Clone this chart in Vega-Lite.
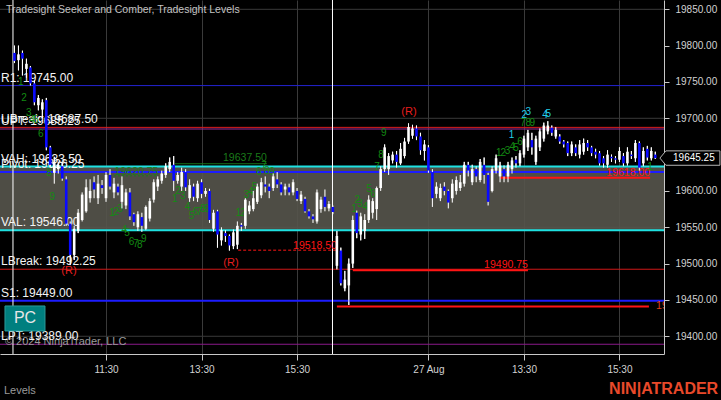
{
"$schema": "https://vega.github.io/schema/vega-lite/v6.json",
"width": 664, "height": 354,
"autosize": {"type": "none"},
"padding": {"left": 0, "top": 0, "right": 57, "bottom": 46},
"background": "#000000",
"config": {"view": {"stroke": null}, "font": "Liberation Sans",
 "axis": {"domainColor": "#c8c8c8", "tickColor": "#c8c8c8", "labelColor": "#d2d2d2", "labelFontSize": 10, "gridColor": "#3a3a3a", "labelFont": "Liberation Sans"}},
"datasets": {
"band": [{"p": 19546, "p2": 19633.5}],
"grid": [{"p": 19400}, {"p": 19550}, {"p": 19700}, {"p": 19850}],
"levels": [
 {"name": "R1", "p": 19745, "label": "R1: 19745.00"},
 {"name": "UBreak", "p": 19687.5, "label": "UBreak: 19687.50"},
 {"name": "UPT", "p": 19685.25, "label": "UPT: 19685.25"},
 {"name": "VAH", "p": 19633.5, "label": "VAH: 19633.50"},
 {"name": "Pivot", "p": 19626.25, "label": "Pivot: 19626.25"},
 {"name": "VAL", "p": 19546, "label": "VAL: 19546.00"},
 {"name": "LBreak", "p": 19492.25, "label": "LBreak: 19492.25"},
 {"name": "S1", "p": 19449, "label": "S1: 19449.00"},
 {"name": "LPT", "p": 19389, "label": "LPT: 19389.00"}
],
"sessions": [{"i": -0.38}, {"i": 79.9}],
"segs": [
 {"i": 40.3, "i2": 63.4, "p": 19637.5, "k": "g"},
 {"i": 24, "i2": 36.1, "p": 19620.75, "k": "gd"},
 {"i": 56.2, "i2": 81, "p": 19518.5, "k": "rd"},
 {"i": 85, "i2": 129, "p": 19490.75, "k": "r2"},
 {"i": 122, "i2": 159.7, "p": 19618, "k": "r2"},
 {"i": 81, "i2": 159.4, "p": 19441, "k": "r2"}
],
"vals": [
 {"i": 63.4, "p": 19645.4, "t": "19637.50", "k": "g"},
 {"i": 36.1, "p": 19626.1, "t": "19620.75", "k": "g"},
 {"i": 81, "p": 19524.3, "t": "19518.50", "k": "r"},
 {"i": 129, "p": 19498.1, "t": "19490.75", "k": "r"},
 {"i": 159.7, "p": 19624.7, "t": "19618.00", "k": "r"}
],
"cut": [{"i": 161.2, "p": 19441.7, "t": "19441.00"}],
"counts": [
 {"i": 1.6, "p": 19749.9, "t": "1", "k": "g"},
 {"i": 2.4, "p": 19727.9, "t": "2", "k": "g"},
 {"i": 3.6, "p": 19707.3, "t": "3", "k": "g"},
 {"i": 4.4, "p": 19698, "t": "4", "k": "g"},
 {"i": 5.4, "p": 19698, "t": "5", "k": "g"},
 {"i": 6.6, "p": 19678.4, "t": "6", "k": "g"},
 {"i": 8.7, "p": 19624.7, "t": "8", "k": "g"},
 {"i": 9.5, "p": 19592.1, "t": "9", "k": "g"},
 {"i": 24.5, "p": 19569.7, "t": "1", "k": "g"},
 {"i": 25.5, "p": 19571, "t": "2", "k": "g"},
 {"i": 26.5, "p": 19575.2, "t": "3", "k": "g"},
 {"i": 27.6, "p": 19546.3, "t": "4", "k": "g"},
 {"i": 28.3, "p": 19542.6, "t": "5", "k": "g"},
 {"i": 29.4, "p": 19530.2, "t": "6", "k": "g"},
 {"i": 30.5, "p": 19527, "t": "7", "k": "g"},
 {"i": 31.5, "p": 19525.6, "t": "8", "k": "g"},
 {"i": 32.5, "p": 19533.9, "t": "9", "k": "g"},
 {"i": 40.3, "p": 19588.6, "t": "1", "k": "g"},
 {"i": 41.1, "p": 19599.6, "t": "2", "k": "g"},
 {"i": 42.3, "p": 19592.7, "t": "3", "k": "g"},
 {"i": 43.5, "p": 19577.5, "t": "4", "k": "g"},
 {"i": 44.5, "p": 19565.5, "t": "5", "k": "g"},
 {"i": 45.5, "p": 19571.4, "t": "6", "k": "g"},
 {"i": 46.4, "p": 19571.4, "t": "7", "k": "g"},
 {"i": 47.3, "p": 19574.8, "t": "8", "k": "g"},
 {"i": 48.3, "p": 19574.8, "t": "9", "k": "g"},
 {"i": 56.2, "p": 19570.1, "t": "1", "k": "g"},
 {"i": 57.4, "p": 19570.1, "t": "2", "k": "g"},
 {"i": 58.3, "p": 19594.4, "t": "3", "k": "g"},
 {"i": 59.4, "p": 19599, "t": "4", "k": "g"},
 {"i": 60.3, "p": 19605, "t": "5", "k": "g"},
 {"i": 61.4, "p": 19626.1, "t": "6", "k": "g"},
 {"i": 62.7, "p": 19634.3, "t": "7", "k": "g"},
 {"i": 63.4, "p": 19627.5, "t": "8", "k": "g"},
 {"i": 64.7, "p": 19626.1, "t": "9", "k": "g"},
 {"i": 85.3, "p": 19575.2, "t": "1", "k": "g"},
 {"i": 86.1, "p": 19587.6, "t": "2", "k": "g"},
 {"i": 86.8, "p": 19582.1, "t": "3", "k": "g"},
 {"i": 88.1, "p": 19578, "t": "4", "k": "g"},
 {"i": 89.1, "p": 19602.8, "t": "5", "k": "g"},
 {"i": 90.1, "p": 19595.9, "t": "6", "k": "g"},
 {"i": 91.1, "p": 19633, "t": "7", "k": "g"},
 {"i": 92.1, "p": 19649.5, "t": "8", "k": "g"},
 {"i": 92.8, "p": 19679.8, "t": "9", "k": "g"},
 {"i": 121.7, "p": 19651.8, "t": "1", "k": "g"},
 {"i": 122.8, "p": 19652.6, "t": "2", "k": "g"},
 {"i": 123.9, "p": 19655, "t": "3", "k": "g"},
 {"i": 125.1, "p": 19660.9, "t": "4", "k": "g"},
 {"i": 126, "p": 19659.5, "t": "5", "k": "g"},
 {"i": 127, "p": 19667.8, "t": "6", "k": "g"},
 {"i": 127.8, "p": 19693.5, "t": "7", "k": "g"},
 {"i": 129.1, "p": 19693.9, "t": "8", "k": "g"},
 {"i": 130.1, "p": 19693.9, "t": "9", "k": "g"},
 {"i": 159.7, "p": 19633, "t": "1", "k": "g"},
 {"i": 124.9, "p": 19677, "t": "1", "k": "c"},
 {"i": 128.1, "p": 19704.5, "t": "2", "k": "c"},
 {"i": 129.1, "p": 19709.1, "t": "3", "k": "c"},
 {"i": 133.3, "p": 19704.5, "t": "4", "k": "c"},
 {"i": 134.1, "p": 19705.9, "t": "5", "k": "c"},
 {"i": 13.7, "p": 19489.9, "t": "(R)", "k": "r"},
 {"i": 54.4, "p": 19500.9, "t": "(R)", "k": "r"},
 {"i": 99.1, "p": 19708.7, "t": "(R)", "k": "r"}
],
"notes": [
 {"i": -2.14, "p": 19849, "t": "Tradesight Seeker and Comber, Tradesight Levels", "k": "title"},
 {"i": -2.4, "p": 19392.2, "t": "© 2024 NinjaTrader, LLC", "k": "copy"},
 {"i": -2.64, "p": 19324.7, "t": "Levels", "k": "foot"}
],
"logo": [{"i": 176.8, "p": 19328, "t": "NIN|ATRADER"}],
"pc": [{"i": -2.39, "i2": 7.66, "p": 19441.7, "p2": 19407.3, "ti": 2.64, "tp": 19424.5, "t": "PC"}],
"last": [{"i": 169.7, "ti": 170.7, "p": 19645.25, "t": "19645.25"}],
"bars": [
{"i":0,"o":19790,"h":19800,"l":19776,"c":19779},
{"i":1,"o":19780,"h":19800,"l":19766,"c":19788},
{"i":2,"o":19790,"h":19793,"l":19759,"c":19782},
{"i":3,"o":19768,"h":19782,"l":19756,"c":19775},
{"i":4,"o":19770,"h":19772,"l":19745,"c":19748},
{"i":5,"o":19748,"h":19752,"l":19718,"c":19722},
{"i":6,"o":19718,"h":19732,"l":19711,"c":19728},
{"i":7,"o":19712,"h":19726,"l":19700,"c":19722},
{"i":8,"o":19725,"h":19728,"l":19656,"c":19660},
{"i":9,"o":19660,"h":19662,"l":19633,"c":19636},
{"i":10,"o":19625,"h":19647,"l":19610,"c":19640},
{"i":11,"o":19630,"h":19640,"l":19624,"c":19636},
{"i":12,"o":19634,"h":19638,"l":19614,"c":19617},
{"i":13,"o":19616,"h":19620,"l":19552,"c":19555},
{"i":14,"o":19555,"h":19558,"l":19498,"c":19512},
{"i":15,"o":19512,"h":19552,"l":19505,"c":19548},
{"i":16,"o":19545,"h":19575,"l":19542,"c":19570},
{"i":17,"o":19560,"h":19598,"l":19558,"c":19595},
{"i":18,"o":19572,"h":19616,"l":19570,"c":19605},
{"i":19,"o":19590,"h":19616,"l":19584,"c":19600},
{"i":20,"o":19612,"h":19620,"l":19590,"c":19602},
{"i":21,"o":19590,"h":19622,"l":19582,"c":19610},
{"i":22,"o":19608,"h":19615,"l":19596,"c":19604},
{"i":23,"o":19590,"h":19626,"l":19585,"c":19622},
{"i":24,"o":19622,"h":19630,"l":19602,"c":19606},
{"i":25,"o":19598,"h":19618,"l":19590,"c":19610},
{"i":26,"o":19606,"h":19610,"l":19594,"c":19598},
{"i":27,"o":19585,"h":19620,"l":19576,"c":19608},
{"i":28,"o":19580,"h":19603,"l":19575,"c":19598},
{"i":29,"o":19598,"h":19604,"l":19560,"c":19565},
{"i":30,"o":19568,"h":19570,"l":19552,"c":19557},
{"i":31,"o":19550,"h":19572,"l":19545,"c":19568},
{"i":32,"o":19564,"h":19570,"l":19544,"c":19552},
{"i":33,"o":19548,"h":19580,"l":19546,"c":19578},
{"i":34,"o":19562,"h":19590,"l":19558,"c":19586},
{"i":35,"o":19588,"h":19616,"l":19584,"c":19612},
{"i":36,"o":19606,"h":19620,"l":19600,"c":19616},
{"i":37,"o":19614,"h":19628,"l":19610,"c":19624},
{"i":38,"o":19622,"h":19638,"l":19618,"c":19634},
{"i":39,"o":19630,"h":19646,"l":19626,"c":19640},
{"i":40,"o":19636,"h":19648,"l":19600,"c":19614},
{"i":41,"o":19614,"h":19626,"l":19610,"c":19622},
{"i":42,"o":19606,"h":19632,"l":19600,"c":19626},
{"i":43,"o":19626,"h":19630,"l":19600,"c":19605},
{"i":44,"o":19590,"h":19616,"l":19585,"c":19608},
{"i":45,"o":19606,"h":19610,"l":19586,"c":19592},
{"i":46,"o":19590,"h":19614,"l":19585,"c":19610},
{"i":47,"o":19612,"h":19616,"l":19590,"c":19596},
{"i":48,"o":19596,"h":19604,"l":19592,"c":19600},
{"i":49,"o":19600,"h":19603,"l":19556,"c":19560},
{"i":50,"o":19548,"h":19574,"l":19544,"c":19570},
{"i":51,"o":19572,"h":19574,"l":19522,"c":19540},
{"i":52,"o":19532,"h":19550,"l":19525,"c":19546},
{"i":53,"o":19542,"h":19546,"l":19530,"c":19538},
{"i":54,"o":19538,"h":19540,"l":19518,"c":19525},
{"i":55,"o":19524,"h":19547,"l":19520,"c":19543},
{"i":56,"o":19526,"h":19558,"l":19520,"c":19552},
{"i":57,"o":19553,"h":19556,"l":19545,"c":19551},
{"i":58,"o":19552,"h":19590,"l":19548,"c":19588},
{"i":59,"o":19572,"h":19586,"l":19568,"c":19580},
{"i":60,"o":19575,"h":19600,"l":19572,"c":19590},
{"i":61,"o":19585,"h":19610,"l":19582,"c":19606},
{"i":62,"o":19594,"h":19618,"l":19590,"c":19612},
{"i":63,"o":19609,"h":19620,"l":19598,"c":19606},
{"i":64,"o":19606,"h":19610,"l":19590,"c":19600},
{"i":65,"o":19604,"h":19624,"l":19600,"c":19620},
{"i":66,"o":19616,"h":19626,"l":19604,"c":19609},
{"i":67,"o":19609,"h":19612,"l":19594,"c":19598},
{"i":68,"o":19602,"h":19610,"l":19594,"c":19606},
{"i":69,"o":19605,"h":19610,"l":19594,"c":19598},
{"i":70,"o":19598,"h":19616,"l":19594,"c":19612},
{"i":71,"o":19600,"h":19604,"l":19586,"c":19589},
{"i":72,"o":19586,"h":19600,"l":19582,"c":19595},
{"i":73,"o":19589,"h":19592,"l":19570,"c":19572},
{"i":74,"o":19572,"h":19575,"l":19562,"c":19565},
{"i":75,"o":19565,"h":19568,"l":19556,"c":19561},
{"i":76,"o":19558,"h":19602,"l":19555,"c":19598},
{"i":77,"o":19575,"h":19592,"l":19570,"c":19588},
{"i":78,"o":19592,"h":19602,"l":19572,"c":19578},
{"i":79,"o":19576,"h":19586,"l":19572,"c":19582},
{"i":80,"o":19578,"h":19580,"l":19568,"c":19571},
{"i":81,"o":19497,"h":19545,"l":19492,"c":19538},
{"i":82,"o":19518,"h":19522,"l":19470,"c":19473},
{"i":83,"o":19466,"h":19490,"l":19462,"c":19478},
{"i":84,"o":19470,"h":19507,"l":19443,"c":19500},
{"i":85,"o":19500,"h":19566,"l":19494,"c":19560},
{"i":86,"o":19570,"h":19573,"l":19535,"c":19542},
{"i":87,"o":19540,"h":19570,"l":19532,"c":19565},
{"i":88,"o":19545,"h":19568,"l":19534,"c":19560},
{"i":89,"o":19560,"h":19594,"l":19556,"c":19588},
{"i":90,"o":19570,"h":19590,"l":19562,"c":19586},
{"i":91,"o":19575,"h":19606,"l":19560,"c":19604},
{"i":92,"o":19604,"h":19634,"l":19600,"c":19630},
{"i":93,"o":19630,"h":19664,"l":19626,"c":19660},
{"i":94,"o":19630,"h":19652,"l":19622,"c":19648},
{"i":95,"o":19642,"h":19654,"l":19638,"c":19650},
{"i":96,"o":19650,"h":19655,"l":19632,"c":19640},
{"i":97,"o":19638,"h":19666,"l":19636,"c":19658},
{"i":98,"o":19648,"h":19673,"l":19645,"c":19668},
{"i":99,"o":19668,"h":19693,"l":19665,"c":19688},
{"i":100,"o":19676,"h":19691,"l":19672,"c":19686},
{"i":101,"o":19686,"h":19690,"l":19670,"c":19675},
{"i":102,"o":19675,"h":19680,"l":19650,"c":19656},
{"i":103,"o":19655,"h":19670,"l":19642,"c":19664},
{"i":104,"o":19660,"h":19663,"l":19625,"c":19628},
{"i":105,"o":19626,"h":19630,"l":19578,"c":19590},
{"i":106,"o":19596,"h":19612,"l":19590,"c":19606},
{"i":107,"o":19590,"h":19610,"l":19586,"c":19604},
{"i":108,"o":19606,"h":19612,"l":19594,"c":19600},
{"i":109,"o":19600,"h":19602,"l":19576,"c":19584},
{"i":110,"o":19590,"h":19616,"l":19584,"c":19610},
{"i":111,"o":19600,"h":19620,"l":19595,"c":19615},
{"i":112,"o":19604,"h":19622,"l":19600,"c":19612},
{"i":113,"o":19610,"h":19640,"l":19606,"c":19636},
{"i":114,"o":19636,"h":19640,"l":19620,"c":19628},
{"i":115,"o":19612,"h":19636,"l":19608,"c":19630},
{"i":116,"o":19630,"h":19634,"l":19612,"c":19620},
{"i":117,"o":19615,"h":19644,"l":19612,"c":19640},
{"i":118,"o":19636,"h":19646,"l":19610,"c":19622},
{"i":119,"o":19622,"h":19625,"l":19580,"c":19585},
{"i":120,"o":19600,"h":19634,"l":19598,"c":19630},
{"i":121,"o":19628,"h":19650,"l":19624,"c":19645},
{"i":122,"o":19620,"h":19640,"l":19612,"c":19635},
{"i":123,"o":19630,"h":19635,"l":19612,"c":19620},
{"i":124,"o":19620,"h":19640,"l":19612,"c":19636},
{"i":125,"o":19630,"h":19646,"l":19624,"c":19642},
{"i":126,"o":19643,"h":19648,"l":19632,"c":19638},
{"i":127,"o":19638,"h":19656,"l":19634,"c":19652},
{"i":128,"o":19650,"h":19676,"l":19646,"c":19672},
{"i":129,"o":19660,"h":19684,"l":19655,"c":19680},
{"i":130,"o":19670,"h":19680,"l":19650,"c":19660},
{"i":131,"o":19640,"h":19676,"l":19636,"c":19672},
{"i":132,"o":19660,"h":19686,"l":19655,"c":19682},
{"i":133,"o":19672,"h":19694,"l":19668,"c":19690},
{"i":134,"o":19682,"h":19696,"l":19678,"c":19690},
{"i":135,"o":19687,"h":19690,"l":19676,"c":19680},
{"i":136,"o":19675,"h":19688,"l":19672,"c":19684},
{"i":137,"o":19675,"h":19678,"l":19665,"c":19668},
{"i":138,"o":19668,"h":19670,"l":19660,"c":19664},
{"i":139,"o":19666,"h":19668,"l":19648,"c":19652},
{"i":140,"o":19652,"h":19668,"l":19648,"c":19664},
{"i":141,"o":19660,"h":19664,"l":19648,"c":19652},
{"i":142,"o":19650,"h":19670,"l":19645,"c":19664},
{"i":143,"o":19654,"h":19672,"l":19650,"c":19666},
{"i":144,"o":19666,"h":19670,"l":19655,"c":19660},
{"i":145,"o":19660,"h":19662,"l":19648,"c":19652},
{"i":146,"o":19654,"h":19658,"l":19645,"c":19650},
{"i":147,"o":19652,"h":19655,"l":19635,"c":19638},
{"i":148,"o":19645,"h":19648,"l":19632,"c":19638},
{"i":149,"o":19636,"h":19656,"l":19632,"c":19650},
{"i":150,"o":19647,"h":19650,"l":19640,"c":19645},
{"i":151,"o":19645,"h":19648,"l":19638,"c":19643},
{"i":152,"o":19643,"h":19660,"l":19640,"c":19655},
{"i":153,"o":19648,"h":19652,"l":19634,"c":19638},
{"i":154,"o":19638,"h":19660,"l":19635,"c":19654},
{"i":155,"o":19650,"h":19655,"l":19644,"c":19648},
{"i":156,"o":19645,"h":19670,"l":19640,"c":19666},
{"i":157,"o":19666,"h":19668,"l":19628,"c":19632},
{"i":158,"o":19638,"h":19660,"l":19634,"c":19655},
{"i":159,"o":19658,"h":19662,"l":19642,"c":19646},
{"i":160,"o":19645,"h":19660,"l":19642,"c":19655},
{"i":161,"o":19650,"h":19654,"l":19644,"c":19645.25}
]
},
"layer": [
{
 "data": {"name": "bars"},
 "mark": {"type": "rule", "color": "#ffffff", "strokeWidth": 1},
 "encoding": {
  "x": {"field": "i", "type": "quantitative", "scale": {"domain": [-3.64, 163.19], "nice": false, "zero": false},
   "axis": {"orient": "bottom", "values": [23, 47, 71, 104, 128, 152], "title": null, "grid": true, "tickSize": 6, "labelPadding": 4,
    "labelFlush": false, "labelOverlap": false,
    "labelExpr": "datum.value == 23 ? '11:30' : datum.value == 47 ? '13:30' : datum.value == 71 ? '15:30' : datum.value == 104 ? '27 Aug' : datum.value == 128 ? '13:30' : '15:30'"}},
  "y": {"field": "l", "type": "quantitative", "scale": {"domain": [19375.6, 19862.8], "nice": false, "zero": false},
   "axis": {"orient": "right", "values": [19400, 19450, 19500, 19550, 19600, 19700, 19750, 19800, 19850], "format": ".2f", "title": null, "grid": false, "tickSize": 5, "labelPadding": 6, "labelFlush": false, "labelOverlap": false}},
  "y2": {"field": "h"}
 }
},
{
 "data": {"name": "grid"},
 "mark": {"type": "rule", "color": "#3a3a3a", "strokeWidth": 1},
 "encoding": {
  "y": {"field": "p", "type": "quantitative", "scale": {"domain": [19375.6, 19862.8], "nice": false, "zero": false}}
 }
},
{
 "data": {"name": "band"},
 "mark": {"type": "rect", "color": "#57554c", "opacity": 0.9},
 "encoding": {
  "y": {"field": "p", "type": "quantitative", "scale": {"domain": [19375.6, 19862.8], "nice": false, "zero": false}},
  "y2": {"field": "p2"}
 }
},
{
 "data": {"name": "levels"},
 "mark": {"type": "rule"},
 "encoding": {
  "y": {"field": "p", "type": "quantitative", "scale": {"domain": [19375.6, 19862.8], "nice": false, "zero": false}},
  "color": {"condition": [
    {"test": "datum.name === 'R1'", "value": "#2323d2"},
    {"test": "datum.name === 'UBreak'", "value": "#dc1e1e"},
    {"test": "datum.name === 'UPT'", "value": "#9b2d9b"},
    {"test": "datum.name === 'VAH' || datum.name === 'VAL'", "value": "#1ee1e1"},
    {"test": "datum.name === 'Pivot' || datum.name === 'S1'", "value": "#1c1cff"},
    {"test": "datum.name === 'LBreak'", "value": "#d01818"}
   ], "value": "#8b1a8b"},
  "strokeWidth": {"condition": {"test": "indexof(['VAH','VAL','Pivot','S1'], datum.name) >= 0", "value": 2}, "value": 1}
 }
},
{
 "data": {"name": "sessions"},
 "mark": {"type": "rule", "color": "#ffffff", "strokeWidth": 1},
 "encoding": {
  "x": {"field": "i", "type": "quantitative", "scale": {"domain": [-3.64, 163.19], "nice": false, "zero": false}}
 }
},
{
 "data": {"name": "segs"},
 "mark": {"type": "rule"},
 "encoding": {
  "x": {"field": "i", "type": "quantitative", "scale": {"domain": [-3.64, 163.19], "nice": false, "zero": false}},
  "x2": {"field": "i2"},
  "y": {"field": "p", "type": "quantitative", "scale": {"domain": [19375.6, 19862.8], "nice": false, "zero": false}},
  "color": {"condition": {"test": "datum.k === 'g' || datum.k === 'gd'", "value": "#1a7a1a"}, "value": "#ff1414"},
  "strokeWidth": {"condition": {"test": "datum.k === 'r2'", "value": 2}, "value": 1},
  "strokeDash": {"condition": [
    {"test": "datum.k === 'gd'", "value": [2, 2]},
    {"test": "datum.k === 'rd'", "value": [3, 2]}
   ], "value": [1, 0]}
 }
},
{
 "data": {"name": "vals"},
 "mark": {"type": "text", "align": "right", "baseline": "middle", "fontSize": 10.5},
 "encoding": {
  "x": {"field": "i", "type": "quantitative", "scale": {"domain": [-3.64, 163.19], "nice": false, "zero": false}},
  "y": {"field": "p", "type": "quantitative", "scale": {"domain": [19375.6, 19862.8], "nice": false, "zero": false}},
  "text": {"field": "t"},
  "color": {"condition": {"test": "datum.k === 'g'", "value": "#1a7a1a"}, "value": "#ff1414"}
 }
},
{
 "data": {"name": "cut"},
 "mark": {"type": "text", "align": "left", "baseline": "middle", "fontSize": 10.5, "clip": true, "color": "#e0401c"},
 "encoding": {
  "x": {"field": "i", "type": "quantitative", "scale": {"domain": [-3.64, 163.19], "nice": false, "zero": false}},
  "y": {"field": "p", "type": "quantitative", "scale": {"domain": [19375.6, 19862.8], "nice": false, "zero": false}},
  "text": {"field": "t"}
 }
},
{
 "data": {"name": "notes"},
 "mark": {"type": "text", "align": "left", "baseline": "middle"},
 "encoding": {
  "x": {"field": "i", "type": "quantitative", "scale": {"domain": [-3.64, 163.19], "nice": false, "zero": false}},
  "y": {"field": "p", "type": "quantitative", "scale": {"domain": [19375.6, 19862.8], "nice": false, "zero": false}},
  "text": {"field": "t"},
  "color": {"condition": {"test": "datum.k === 'title'", "value": "#c4c4c4"}, "value": "#9a9a9a"},
  "size": {"condition": {"test": "datum.k === 'title'", "value": 10.5}, "value": 11}
 }
},
{
 "data": {"name": "logo"},
 "mark": {"type": "text", "align": "right", "baseline": "middle", "fontSize": 16, "fontWeight": "bold", "color": "#e8492a"},
 "encoding": {
  "x": {"field": "i", "type": "quantitative", "scale": {"domain": [-3.64, 163.19], "nice": false, "zero": false}},
  "y": {"field": "p", "type": "quantitative", "scale": {"domain": [19375.6, 19862.8], "nice": false, "zero": false}},
  "text": {"field": "t"}
 }
},
{
 "data": {"name": "levels"},
 "mark": {"type": "text", "align": "left", "baseline": "bottom", "dx": 1, "dy": -1, "fontSize": 12, "color": "#f4f4f4"},
 "encoding": {
  "x": {"datum": -3.64, "type": "quantitative", "scale": {"domain": [-3.64, 163.19], "nice": false, "zero": false}},
  "y": {"field": "p", "type": "quantitative", "scale": {"domain": [19375.6, 19862.8], "nice": false, "zero": false}},
  "text": {"field": "label"}
 }
},
{
 "data": {"name": "counts"},
 "mark": {"type": "text", "align": "center", "baseline": "middle"},
 "encoding": {
  "x": {"field": "i", "type": "quantitative", "scale": {"domain": [-3.64, 163.19], "nice": false, "zero": false}},
  "y": {"field": "p", "type": "quantitative", "scale": {"domain": [19375.6, 19862.8], "nice": false, "zero": false}},
  "text": {"field": "t"},
  "color": {"condition": [
    {"test": "datum.k === 'c'", "value": "#22cfe8"},
    {"test": "datum.k === 'r'", "value": "#e61e1e"}
   ], "value": "#138a13"},
  "size": {"condition": {"test": "datum.k === 'r'", "value": 11}, "value": 10}
 }
},
{
 "data": {"name": "bars"},
 "mark": {"type": "rule", "color": "#ffffff", "strokeWidth": 1},
 "encoding": {
  "x": {"field": "i", "type": "quantitative", "scale": {"domain": [-3.64, 163.19], "nice": false, "zero": false}},
  "y": {"field": "l", "type": "quantitative", "scale": {"domain": [19375.6, 19862.8], "nice": false, "zero": false}},
  "y2": {"field": "h"}
 }
},
{
 "data": {"name": "bars"},
 "mark": {"type": "rule", "strokeWidth": 2.6, "strokeCap": "butt"},
 "encoding": {
  "x": {"field": "i", "type": "quantitative", "scale": {"domain": [-3.64, 163.19], "nice": false, "zero": false}},
  "y": {"field": "o", "type": "quantitative", "scale": {"domain": [19375.6, 19862.8], "nice": false, "zero": false}},
  "y2": {"field": "c"},
  "color": {"condition": {"test": "datum.c >= datum.o", "value": "#ffffff"}, "value": "#0a0aff"}
 }
},
{
 "data": {"name": "pc"},
 "mark": {"type": "rect", "color": "#007f7f", "stroke": "#2a9c9c", "strokeWidth": 1},
 "encoding": {
  "x": {"field": "i", "type": "quantitative", "scale": {"domain": [-3.64, 163.19], "nice": false, "zero": false}},
  "x2": {"field": "i2"},
  "y": {"field": "p", "type": "quantitative", "scale": {"domain": [19375.6, 19862.8], "nice": false, "zero": false}},
  "y2": {"field": "p2"}
 }
},
{
 "data": {"name": "pc"},
 "mark": {"type": "text", "align": "center", "baseline": "middle", "fontSize": 16, "color": "#e6e6e6"},
 "encoding": {
  "x": {"field": "ti", "type": "quantitative", "scale": {"domain": [-3.64, 163.19], "nice": false, "zero": false}},
  "y": {"field": "tp", "type": "quantitative", "scale": {"domain": [19375.6, 19862.8], "nice": false, "zero": false}},
  "text": {"field": "t"}
 }
},
{
 "data": {"name": "last"},
 "mark": {"type": "point", "shape": "M -1 0 L -0.8 -0.24 L 1 -0.24 L 1 0.24 L -0.8 0.24 Z", "filled": true, "fill": "#000000", "stroke": "#b4b4b4", "strokeWidth": 1, "opacity": 1, "size": 3600},
 "encoding": {
  "x": {"field": "i", "type": "quantitative", "scale": {"domain": [-3.64, 163.19], "nice": false, "zero": false}},
  "y": {"field": "p", "type": "quantitative", "scale": {"domain": [19375.6, 19862.8], "nice": false, "zero": false}}
 }
},
{
 "data": {"name": "last"},
 "mark": {"type": "text", "align": "center", "baseline": "middle", "fontSize": 10, "color": "#ffffff"},
 "encoding": {
  "x": {"field": "ti", "type": "quantitative", "scale": {"domain": [-3.64, 163.19], "nice": false, "zero": false}},
  "y": {"field": "p", "type": "quantitative", "scale": {"domain": [19375.6, 19862.8], "nice": false, "zero": false}},
  "text": {"field": "t"}
 }
}
]
}
